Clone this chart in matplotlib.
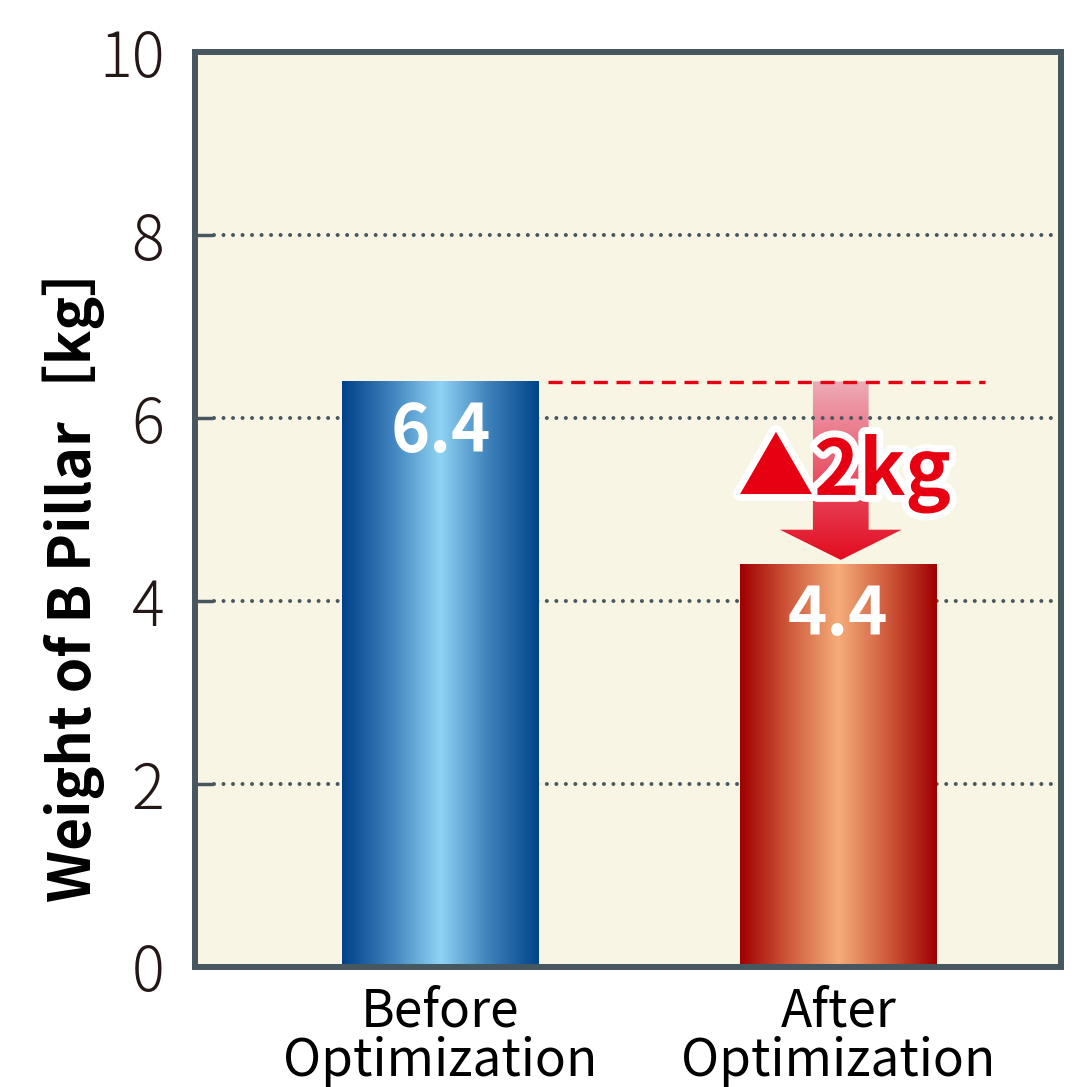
import numpy as np
import matplotlib.pyplot as plt
from matplotlib.colors import LinearSegmentedColormap
from matplotlib.patches import Polygon
import matplotlib.patheffects as pe

# data
categories = ['Before\nOptimization', 'After\nOptimization']
weights = [6.4, 4.4]
value_labels = ['6.4', '4.4']
reduction_label = '▲2kg'
yticks = [0, 2, 4, 6, 8, 10]
ylabel = 'Weight of B Pillar［kg］'

frame = '#475760'
bg = '#f9f5e5'
ink = '#231815'
red = '#e60012'

plt.rcParams['font.family'] = ['Noto Sans CJK JP', 'DejaVu Sans']

fig = plt.figure(figsize=(10.88, 10.87), dpi=100)
ax = fig.add_axes([0.1792, 0.1104, 0.7958, 0.8416])
ax.set_facecolor(bg)

x = np.arange(len(weights))
bars = ax.bar(x, weights, width=0.495, color='none', zorder=3)

# gradient fill of the bars
grads = [['#00408a', '#3f82bd', '#8fd3f4', '#3d80ba', '#00458a'],
         ['#a00000', '#cf5a3c', '#f4ad7a', '#cf5a3c', '#a00000']]
for bar, cols in zip(bars, grads):
    cmap = LinearSegmentedColormap.from_list('g', cols)
    x0, y0 = bar.get_x(), bar.get_y()
    w, h = bar.get_width(), bar.get_height()
    ax.imshow(np.linspace(0, 1, 256).reshape(1, -1), cmap=cmap, aspect='auto',
              extent=[x0, x0 + w, y0, y0 + h], zorder=3)

# dotted grid
ax.hlines(yticks[1:-1], 0.022, 1, transform=ax.get_yaxis_transform(),
          colors=frame, linewidth=2.9, linestyles=[(0, (0.001, 2.36))],
          capstyle='round', zorder=2)

# reference line at the "before" level
ax.plot([x[0] + 0.27, x[1] + 0.368], [weights[0], weights[0]], color=red,
        linewidth=2.4, dashes=(4.2, 2.6), zorder=4)

# down arrow from before to after
cx = x[1] + 0.006
top, tip = weights[0], weights[1] + 0.05
neck = tip + 0.33
sw, hw = 0.07, 0.153
arrow = Polygon([(cx - sw, top), (cx + sw, top), (cx + sw, neck), (cx + hw, neck),
                 (cx, tip), (cx - hw, neck), (cx - sw, neck)], closed=True,
                facecolor='none', edgecolor='none')
ax.add_patch(arrow)
acmap = LinearSegmentedColormap.from_list('a', ['#e30c20', '#e8566a', '#eeabb8'])
im = ax.imshow(np.linspace(0, 1, 256).reshape(-1, 1), cmap=acmap, aspect='auto',
               extent=[cx - hw, cx + hw, tip, top], origin='lower', zorder=1)
im.set_clip_path(arrow)

ax.text(x[1] + 0.015, 5.16, reduction_label, ha='center', va='baseline',
        fontsize=55, fontweight='bold', color=red, zorder=6,
        path_effects=[pe.withStroke(linewidth=10, foreground='white')])

for xi, wv, lab in zip(x, weights, value_labels):
    ax.text(xi, wv - 0.56, lab, ha='center', va='center', color='white',
            fontsize=48, fontweight='bold', zorder=5)

ax.set_xlim(-0.617, 1.559)
ax.set_ylim(0, 10)
ax.set_yticks(yticks)
ax.set_xticks(x)
ax.set_xticklabels(categories, linespacing=0.9)
ax.tick_params(axis='y', direction='in', length=13, width=2.5, color=frame,
               labelsize=44, labelcolor=ink, pad=22)
ax.tick_params(axis='x', length=0, labelsize=37, labelcolor='black', pad=13)
for lab in ax.get_yticklabels():
    lab.set_fontweight('light')

for s in ax.spines.values():
    s.set_color(frame)
    s.set_linewidth(4.3)
    s.set_zorder(7)

ax.set_ylabel(ylabel, fontsize=41, fontweight='bold', color='black')
ax.yaxis.set_label_coords(-0.104, 0.434)

fig.savefig('out.png', dpi=100, facecolor='white')
